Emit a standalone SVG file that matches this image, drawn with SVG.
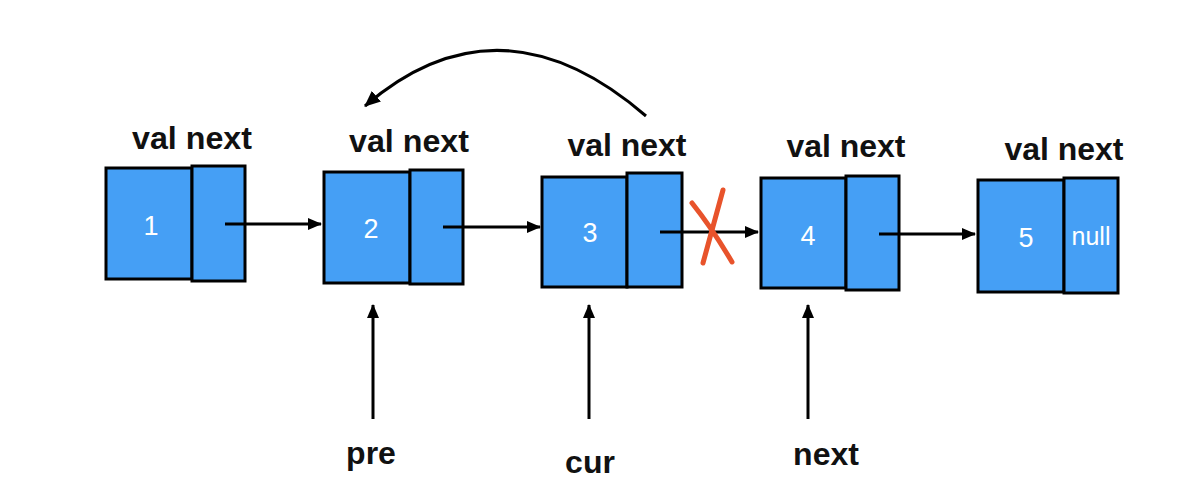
<svg xmlns="http://www.w3.org/2000/svg" width="1178" height="500" viewBox="0 0 1178 500">
  <style>
    .cell { fill: #459ff5; stroke: #000; stroke-width: 3; }
    .hdr { font-family: "Liberation Sans", Arial, sans-serif; font-weight: bold; font-size: 32px; fill: #111; text-anchor: middle; }
    .val { font-family: "Liberation Sans", Arial, sans-serif; font-size: 27px; fill: #fff; text-anchor: middle; }
    .nul { font-family: "Liberation Sans", Arial, sans-serif; font-size: 25px; fill: #fff; text-anchor: middle; }
    .lbl { font-family: "Liberation Sans", Arial, sans-serif; font-weight: bold; font-size: 32px; fill: #111; text-anchor: middle; }
    .conn { stroke: #000; stroke-width: 3; fill: none; marker-end: url(#ah); }
  </style>
  <defs>
    <marker id="ah" viewBox="0 0 14 12" refX="13" refY="6" markerWidth="14" markerHeight="12" markerUnits="userSpaceOnUse" orient="auto">
      <path d="M0,0 L14,6 L0,12 Z" fill="#000"/>
    </marker>
    <marker id="ah2" viewBox="0 0 16 14" refX="15" refY="7" markerWidth="16" markerHeight="14" markerUnits="userSpaceOnUse" orient="auto">
      <path d="M0,0 L16,7 L0,14 Z" fill="#000"/>
    </marker>
  </defs>
  <rect width="1178" height="500" fill="#fff"/>

  <g id="node1">
    <text class="hdr" x="192" y="149" textLength="120" lengthAdjust="spacingAndGlyphs">val next</text>
    <rect class="cell" x="106" y="168" width="86" height="111"/>
    <rect class="cell" x="192" y="166" width="53" height="115"/>
    <text class="val" x="151" y="235">1</text>
  </g>
  <g id="node2">
    <text class="hdr" x="409" y="152" textLength="120" lengthAdjust="spacingAndGlyphs">val next</text>
    <rect class="cell" x="324" y="172" width="86" height="111"/>
    <rect class="cell" x="410" y="170" width="53" height="114"/>
    <text class="val" x="371" y="238">2</text>
  </g>
  <g id="node3">
    <text class="hdr" x="627" y="156" textLength="119" lengthAdjust="spacingAndGlyphs">val next</text>
    <rect class="cell" x="542" y="177" width="85" height="110"/>
    <rect class="cell" x="627" y="173" width="55" height="114"/>
    <text class="val" x="590" y="242">3</text>
  </g>
  <g id="node4">
    <text class="hdr" x="846" y="157" textLength="119" lengthAdjust="spacingAndGlyphs">val next</text>
    <rect class="cell" x="761" y="178" width="85" height="110"/>
    <rect class="cell" x="846" y="176" width="53" height="114"/>
    <text class="val" x="808" y="245">4</text>
  </g>
  <g id="node5">
    <text class="hdr" x="1064" y="160" textLength="119" lengthAdjust="spacingAndGlyphs">val next</text>
    <rect class="cell" x="978" y="180" width="86" height="112"/>
    <rect class="cell" x="1064" y="178" width="54" height="115"/>
    <text class="val" x="1026" y="247">5</text>
    <text class="nul" x="1091" y="245">null</text>
  </g>

  <g id="pointers">
    <text class="lbl" x="371" y="464">pre</text>
    <text class="lbl" x="590" y="473">cur</text>
    <text class="lbl" x="826" y="465">next</text>
  </g>

  <g id="connectors">
    <line class="conn" x1="225" y1="224" x2="321" y2="224"/>
    <line class="conn" x1="443" y1="227" x2="540" y2="227"/>
    <line class="conn" x1="660" y1="232" x2="758" y2="232"/>
    <line class="conn" x1="879" y1="234" x2="975" y2="234"/>
    <line class="conn" x1="373" y1="419" x2="373" y2="305"/>
    <line class="conn" x1="589" y1="419" x2="589" y2="305"/>
    <line class="conn" x1="808" y1="419" x2="808" y2="305"/>
    <path d="M646,116 Q500,-10 365,106" stroke="#000" stroke-width="3" fill="none" marker-end="url(#ah2)"/>
  </g>

  <g id="cross" stroke="#e8532b" stroke-width="5" stroke-linecap="round" fill="none">
    <path d="M692,203 Q712,228 732,262"/>
    <path d="M723,190 Q713,226 703,263"/>
  </g>
</svg>
